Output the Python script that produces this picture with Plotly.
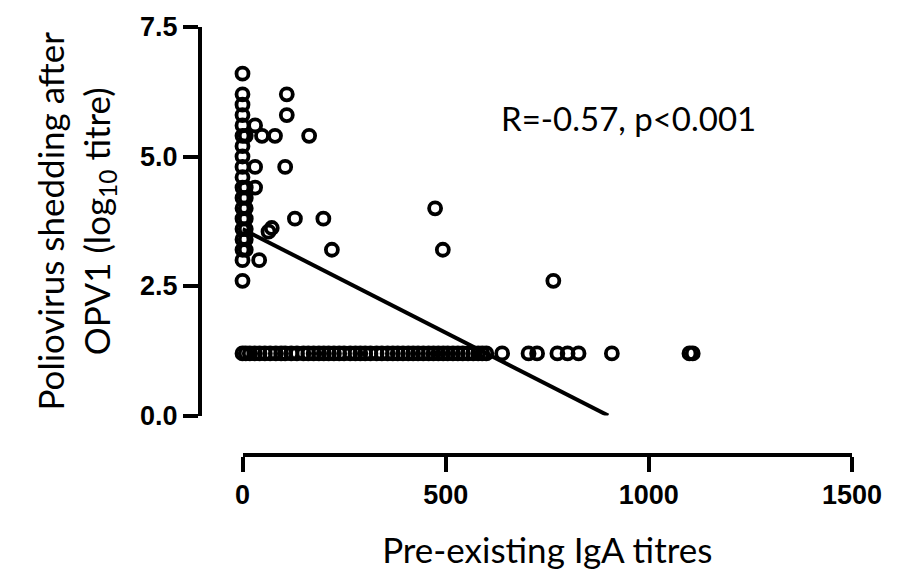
import plotly.graph_objects as go

# ---- data ----
# stacked column of shedders with IgA titre ~0
col_x = [0]*19 + [8]*8
col_y = [6.6, 6.2, 6.0, 5.8, 5.6, 5.4, 5.2, 5.0, 4.8, 4.6, 4.4, 4.2, 4.0, 3.8, 3.6, 3.4, 3.2, 3.0, 2.6,
         5.4, 4.4, 4.2, 4.0, 3.8, 3.6, 3.4, 3.2]
# scattered shedders
sc_x = [31, 48, 80, 164, 109, 109, 105, 31, 31, 129, 199, 64, 72, 220, 41, 474, 493, 765]
sc_y = [5.6, 5.4, 5.4, 5.4, 6.2, 5.8, 4.8, 4.8, 4.4, 3.8, 3.8, 3.55, 3.62, 3.2, 3.0, 4.0, 3.2, 2.6]
# non-shedders (detection limit row)
row_x = [0, 8, 18, 30, 42, 55, 68, 82, 95, 105, 120, 134, 150, 162, 175, 188, 200, 212, 225, 238,
         250, 265, 278, 290, 302, 315, 330, 343, 357, 370, 382, 395, 408, 420, 432, 445, 458, 470,
         482, 494, 505, 518, 530, 542, 555, 568, 580, 590, 600, 639, 704, 725, 775, 800, 827, 909,
         1100, 1108]
row_y = [1.2]*len(row_x)
# regression line end points
fit_x = [0, 900]
fit_y = [3.6, 0.0]

x_ticks = [0, 500, 1000, 1500]
y_ticks = [0, 2.5, 5.0, 7.5]
annot_text = "R=-0.57, p<0.001"

all_x = col_x + sc_x + row_x
all_y = col_y + sc_y + row_y

fig = go.Figure()
fig.add_trace(go.Scatter(
    x=all_x, y=all_y, mode="markers",
    marker=dict(symbol="circle-open", size=12, color="black", line=dict(width=3.8, color="black")),
    cliponaxis=False, showlegend=False))
fig.add_trace(go.Scatter(
    x=fit_x, y=fit_y, mode="lines", line=dict(color="black", width=4),
    cliponaxis=False, showlegend=False))

fig.add_annotation(x=950, y=5.75, xref="x", yref="y", text=annot_text, showarrow=False,
                   font=dict(family="Lato", size=33, color="black"))

W, H = 906, 583
L, R, T, B = 200, 54, 21, 128
pw, ph = W - L - R, H - T - B
fig.update_layout(
    width=W, height=H,
    margin=dict(l=L, r=R, t=T, b=B, pad=0),
    paper_bgcolor="white", plot_bgcolor="white",
    xaxis=dict(
        domain=[42.5 / pw, 1], range=[0, 1500], anchor="free", position=0,
        tickvals=x_ticks, ticktext=[str(v) for v in x_ticks],
        showline=True, linecolor="black", linewidth=4,
        ticks="outside", ticklen=15, tickwidth=4, tickcolor="black",
        showgrid=False, zeroline=False,
        tickfont=dict(family="Liberation Sans", size=27, color="black", weight="bold"),
        title=dict(text="Pre-existing IgA titres", font=dict(family="Lato", size=35, color="black"),
                   standoff=28),
    ),
    yaxis=dict(
        domain=[40 / ph, 1], range=[0, 7.5], anchor="free", position=0,
        tickvals=y_ticks, tickformat=".1f",
        showline=True, linecolor="black", linewidth=4,
        ticks="outside", ticklen=15, tickwidth=4, tickcolor="black",
        showgrid=False, zeroline=False,
        tickfont=dict(family="Liberation Sans", size=27, color="black", weight="bold"),
        title=dict(text="Poliovirus shedding after<br>OPV1 (log<sub>10</sub> titre)",
                   font=dict(family="Lato", size=35, color="black"), standoff=18),
    ),
)
fig.write_html("out.html")
